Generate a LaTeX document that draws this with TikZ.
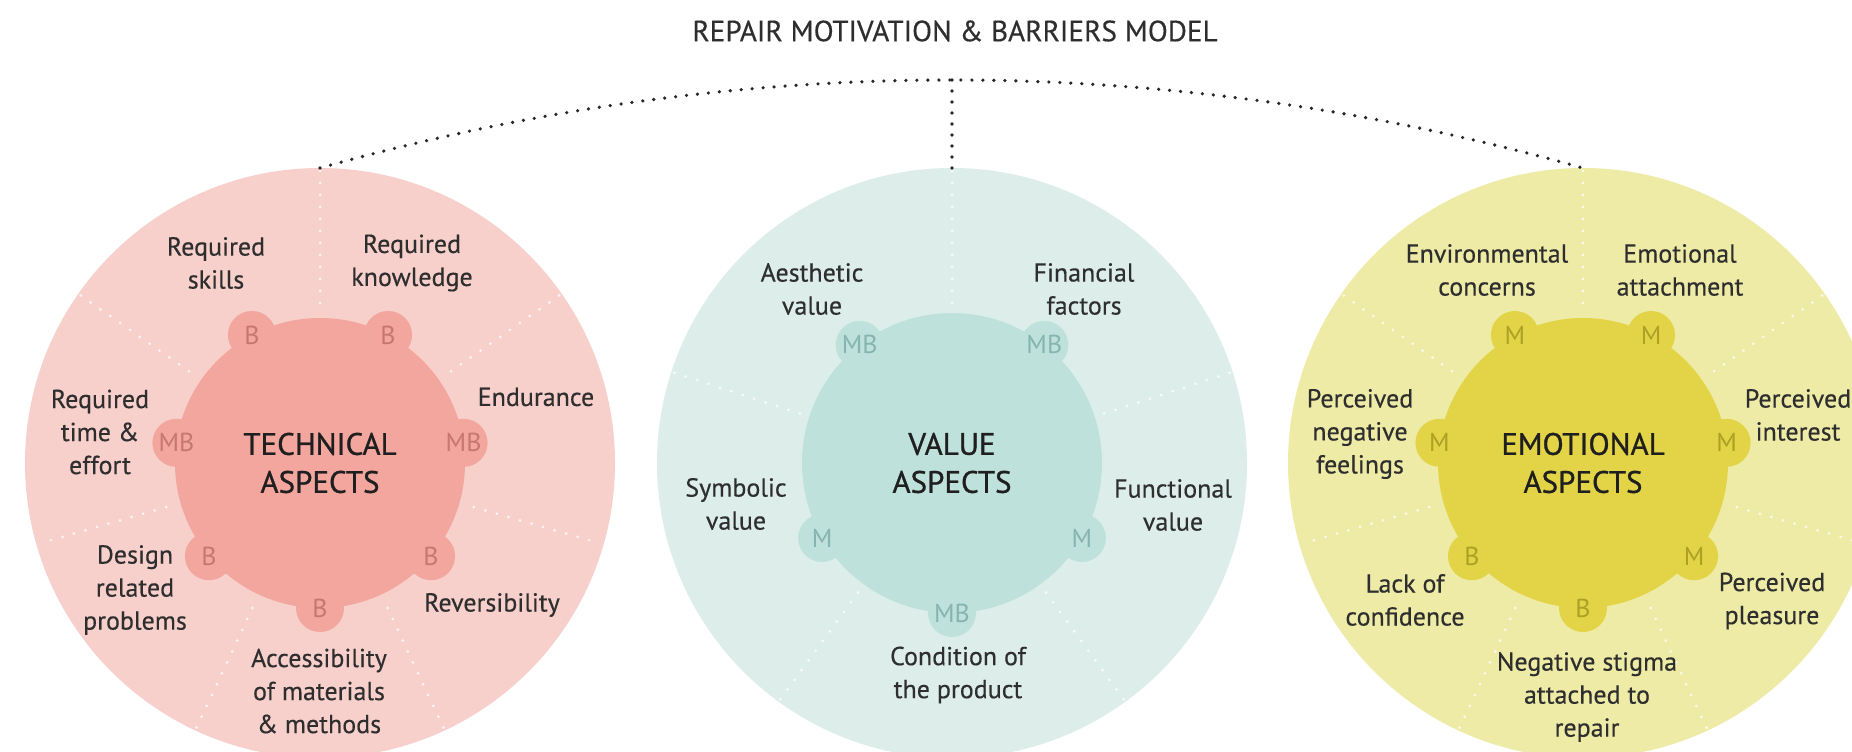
\documentclass[tikz,border=0pt]{standalone}
\usepackage{fontspec}
\setmainfont{PT Sans}
\newfontfamily\labelfont{PT Sans}[FakeBold=0.35]
\newfontfamily\headfont{PT Sans}[FakeBold=0.9]
\usetikzlibrary{calc}
\definecolor{techout}{HTML}{F7CFCB}
\definecolor{techin}{HTML}{F2A69D}
\definecolor{techtxt}{HTML}{C8776F}
\definecolor{valout}{HTML}{DDEEEA}
\definecolor{valin}{HTML}{BFE1DB}
\definecolor{valtxt}{HTML}{86B5AD}
\definecolor{emoout}{HTML}{EEEBA7}
\definecolor{emoin}{HTML}{E3D447}
\definecolor{emotxt}{HTML}{ADA024}
\definecolor{ink}{HTML}{2E2E2E}

\begin{document}
\begin{tikzpicture}[x=0.5pt, y=0.5pt,
			ring/.style = {circle, inner sep=0pt, outer sep=0pt, minimum size=295pt},
			core/.style = {circle, inner sep=0pt, outer sep=0pt, minimum size=#1},
			bump/.style = {circle, inner sep=0pt, outer sep=0pt, minimum size=24pt,
				font=\fontsize{13}{13}\selectfont},
			lbl/.style = {align=center, text=ink, font=\labelfont\fontsize{13}{16.5}\selectfont},
			head/.style = {align=center, text=black!88, font=\headfont\fontsize{15.5}{19}\selectfont},
			divider/.style = {white, opacity=0.8, line width=1.5pt, line cap=round,
				dash pattern=on 0pt off 6pt},
			link/.style = {black!85, line width=1.8pt, line cap=round,
				dash pattern=on 0pt off 5.5pt},
			]
		
		\useasboundingbox (0,0) rectangle (1852,751);
		\clip (0,0) rectangle (1852,751);
		\fill[white] (0,0) rectangle (1852,751);
		
		\node[font=\labelfont\fontsize{14.6}{17}\selectfont, text=ink] (title) at (955,720)
			{REPAIR MOTIVATION \& BARRIERS MODEL};
		
		% the three outer rings
		\node[ring, fill=techout] (tech) at (320,288) {};
		\node[ring, fill=valout] (value) at (952,288) {};
		\node[ring, fill=emoout] (emo) at (1583,288) {};
		
		% sector lines
		\foreach \a in {35,90,145,196,245,295,344}{
			\draw[divider] ($(tech)+(\a:160)$) -- ($(tech)+(\a:292)$);
			\draw[divider] ($(emo)+(\a:160)$) -- ($(emo)+(\a:292)$);
		}
		\foreach \a in {18,90,162,234,306}
			\draw[divider] ($(value)+(\a:160)$) -- ($(value)+(\a:292)$);
		
		% cores with their bumps
		\node[core=145pt, fill=techin] (techcore) at (tech) {};
		\node[core=150pt, fill=valin] (valcore) at (value) {};
		\node[core=145pt, fill=emoin] (emocore) at (emo) {};
		
		\foreach \a/\t in {118/B, 62/B, 172/MB, 8/MB, 220/B, 320/B, 270/B}
			\node[bump, fill=techin, text=techtxt] (tb\a) at ($(tech)+(\a:145)$) {\t};
		\foreach \a/\t in {128/MB, 52/MB, 210/M, 330/M, 270/MB}
			\node[bump, fill=valin, text=valtxt] (vb\a) at ($(value)+(\a:150)$) {\t};
		\foreach \a/\t in {118/M, 62/M, 172/M, 8/M, 220/B, 320/M, 270/B}
			\node[bump, fill=emoin, text=emotxt] (eb\a) at ($(emo)+(\a:145)$) {\t};
		
		\node[head] at (techcore) {TECHNICAL\\ASPECTS};
		\node[head] at (valcore) {VALUE\\ASPECTS};
		\node[head] at (emocore) {EMOTIONAL\\ASPECTS};
		
		% technical labels
		\node[lbl] (skills) at (216,488) {Required\\skills};
		\node[lbl] (knowledge) at (412,488) {Required\\knowledge};
		\node[lbl] (timeeffort) at (100,319) {Required\\time \&\\effort};
		\node[lbl] (endurance) at (536,354) {Endurance};
		\node[lbl] (design) at (135,161) {Design\\related\\problems};
		\node[lbl] (revers) at (492,146) {Reversibility};
		\node[lbl] (access) at (319,60) {Accessibility\\of materials\\\& methods};
		
		% value labels
		\node[lbl] (aesth) at (812,462) {Aesthetic\\value};
		\node[lbl] (financial) at (1084,462) {Financial\\factors};
		\node[lbl] (symbolic) at (736,247) {Symbolic\\value};
		\node[lbl] (functional) at (1173,246) {Functional\\value};
		\node[lbl] (condition) at (958,76) {Condition of\\the product};
		
		% emotional labels
		\node[lbl] (environ) at (1487,481) {Environmental\\concerns};
		\node[lbl] (attach) at (1680,481) {Emotional\\attachment};
		\node[lbl] (negfeel) at (1360,317) {Perceived\\negative\\feelings};
		\node[lbl] (interest) at (1798,336) {Perceived\\interest};
		\node[lbl] (confid) at (1405,151) {Lack of\\confidence};
		\node[lbl] (pleasure) at (1772,150) {Perceived\\pleasure};
		\node[lbl] (stigma) at (1587,54) {Negative stigma\\attached to\\repair};
		
		% dotted link over the rings
		\coordinate (apex) at (952,671);
		\draw[link] (tech.north) .. controls (531,642) and (741,671) .. (apex)
			.. controls (1163,671) and (1373,642) .. (emo.north);
		\draw[link] (apex) -- (value.north);
		
\end{tikzpicture}
\end{document}
